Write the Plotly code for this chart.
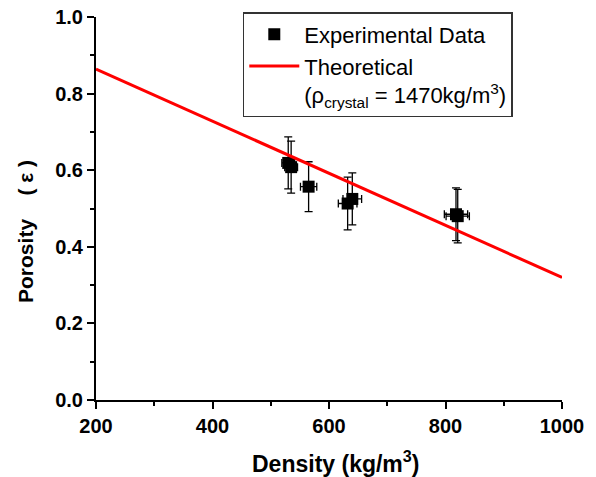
import plotly.graph_objects as go

density = [530, 535, 565, 632, 640, 818, 821]
porosity = [0.619, 0.608, 0.557, 0.513, 0.525, 0.485, 0.480]
porosity_err = [0.068, 0.068, 0.065, 0.069, 0.068, 0.069, 0.070]
density_err = [11, 11, 14, 16, 16, 20, 20]

# Theoretical line endpoints (rho_crystal = 1470 kg/m3)
theo_density = [200, 1000]
theo_porosity = [0.864, 0.320]

x_title = "Density (kg/m<sup>3</sup>)"
NB = "\u00a0"
y_title = "Porosity" + NB * 4 + "(" + NB + "ε" + NB + ")"

FONT = "Liberation Sans, Arial, sans-serif"

fig = go.Figure()
fig.add_trace(go.Scatter(
    x=density, y=porosity, mode="markers", name="Experimental Data",
    marker=dict(symbol="square", size=12, color="black"),
    error_y=dict(type="data", array=porosity_err, color="black", thickness=1.3, width=4),
    error_x=dict(type="data", array=density_err, color="black", thickness=1.3, width=4),
))
fig.add_trace(go.Scatter(
    x=theo_density, y=theo_porosity, mode="lines",
    name="Theoretical<br>(ρ<sub>crystal</sub> = 1470kg/m<sup>3</sup>)",
    line=dict(color="red", width=3),
))

axis_common = dict(
    showgrid=False, zeroline=False, showline=True, linecolor="black", linewidth=2,
    ticks="outside", ticklen=7, tickwidth=2, tickcolor="black", mirror=False,
    tickfont=dict(family=FONT, size=20, color="black", weight="bold"),
    ticklabeloverflow="allow",
)
fig.update_layout(
    width=596, height=477,
    margin=dict(l=96, r=34, t=17, b=77, autoexpand=False),
    paper_bgcolor="white", plot_bgcolor="white",
    showlegend=True,
    legend=dict(
        x=0.315, y=1.013, xanchor="left", yanchor="top",
        bgcolor="white", bordercolor="#333", borderwidth=1.5,
        font=dict(family=FONT, size=22, color="black"),
        valign="top", itemwidth=50, tracegroupgap=0,
    ),
    xaxis=dict(
        range=[200, 1000], tickvals=[200, 400, 600, 800, 1000],
        minor=dict(ticks="outside", ticklen=4, tickwidth=1.5, tickcolor="black", dtick=100, showgrid=False),
        **axis_common,
    ),
    yaxis=dict(
        range=[0, 1.0], tickvals=[0, 0.2, 0.4, 0.6, 0.8, 1.0], tickformat=".1f",
        minor=dict(ticks="outside", ticklen=4, tickwidth=1.5, tickcolor="black", dtick=0.1, showgrid=False),
        **axis_common,
    ),
    annotations=[
        dict(text=x_title, xref="paper", yref="paper", x=0.513, y=-0.163,
             xanchor="center", yanchor="middle", showarrow=False,
             font=dict(family=FONT, size=23, color="black", weight="bold")),
        dict(text=y_title, xref="paper", yref="paper", x=-0.150, y=0.439, textangle=-90,
             xanchor="center", yanchor="middle", showarrow=False,
             font=dict(family=FONT, size=21, color="black", weight="bold")),
    ],
)

fig.write_html("out.html", config={"displayModeBar": False},
               post_script="document.body.style.margin='0';")
